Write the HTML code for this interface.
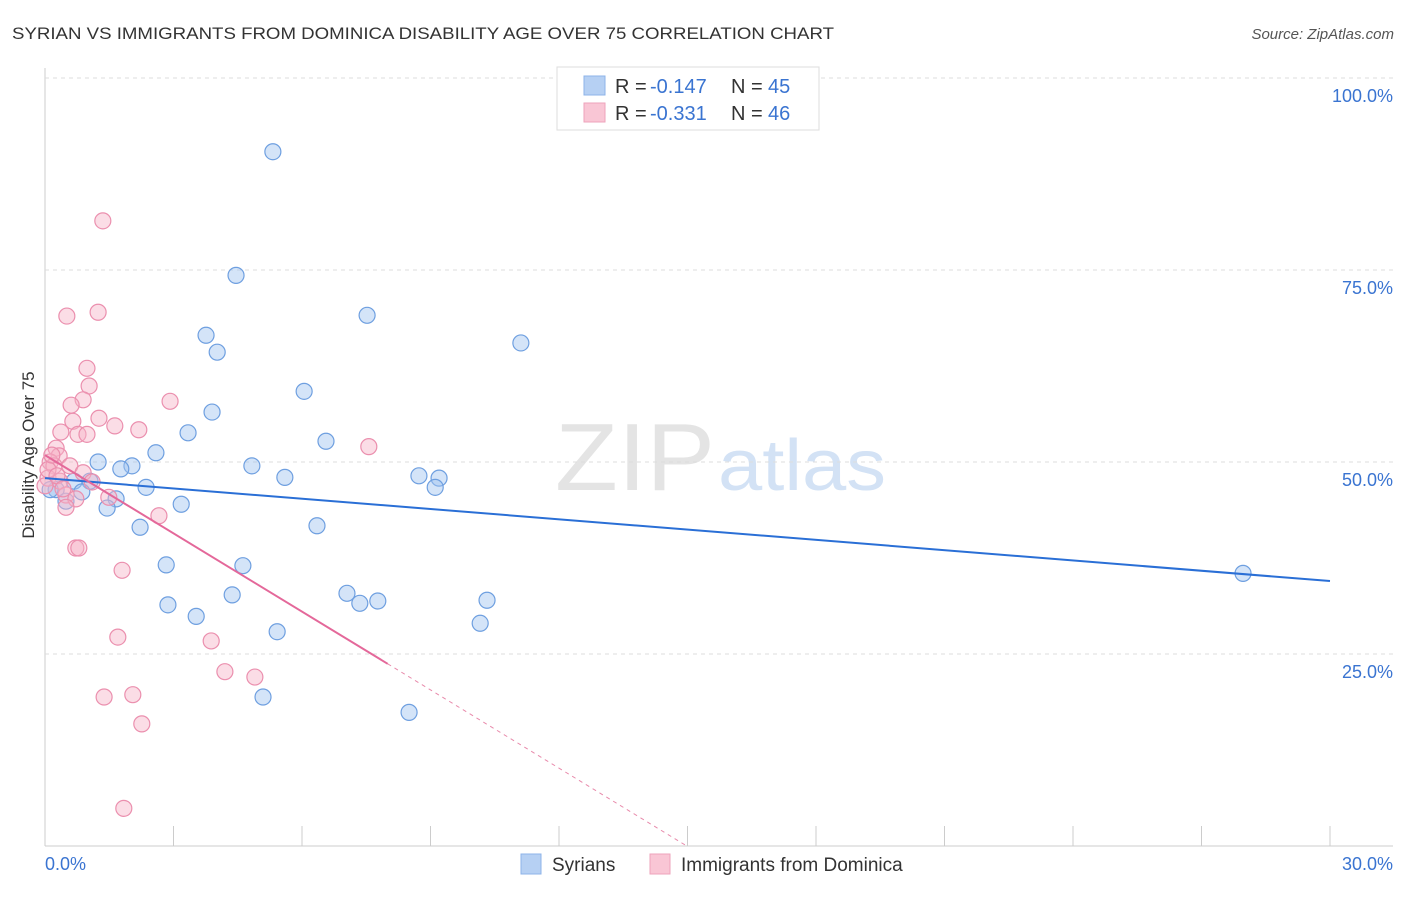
<!DOCTYPE html>
<html><head><meta charset="utf-8"><style>
body{margin:0;background:#fff;font-family:"Liberation Sans",sans-serif}
svg text{font-family:"Liberation Sans",sans-serif}
</style></head><body>
<svg id="c" width="1406" height="892" xmlns="http://www.w3.org/2000/svg">
<text x="12" y="39" font-size="17" fill="#333" textLength="822" lengthAdjust="spacingAndGlyphs">SYRIAN VS IMMIGRANTS FROM DOMINICA DISABILITY AGE OVER 75 CORRELATION CHART</text>
<text x="1394" y="39" font-size="15" fill="#555" text-anchor="end" font-style="italic">Source: ZipAtlas.com</text>
<text x="555" y="490" font-size="96" fill="#e4e4e4" textLength="160" lengthAdjust="spacingAndGlyphs" font-family="Liberation Serif">ZIP</text>
<text x="718" y="490" font-size="72" fill="#d3e2f5" textLength="168" lengthAdjust="spacingAndGlyphs">atlas</text>
<text transform="translate(34,455) rotate(-90)" font-size="17" fill="#333" text-anchor="middle">Disability Age Over 75</text>
<g id="grid"></g><g id="pts"></g><g id="lines"></g>
<g>
<rect x="557" y="67" width="262" height="63" fill="#fff" stroke="#ddd"/>
<rect x="584" y="76" width="21" height="19" fill="#b6d0f3" stroke="#8db3e8"/>
<rect x="584" y="103" width="21" height="19" fill="#f9c6d5" stroke="#eea3bb"/>
<text x="615" y="93" font-size="20" fill="#333">R =</text>
<text x="650" y="93" font-size="20" fill="#3a74d1">-0.147</text>
<text x="731" y="93" font-size="20" fill="#333">N =</text>
<text x="768" y="93" font-size="20" fill="#3a74d1">45</text>
<text x="615" y="120" font-size="20" fill="#333">R =</text>
<text x="650" y="120" font-size="20" fill="#3a74d1">-0.331</text>
<text x="731" y="120" font-size="20" fill="#333">N =</text>
<text x="768" y="120" font-size="20" fill="#3a74d1">46</text>
</g>
<g>
<rect x="521" y="854" width="20" height="20" fill="#b6d0f3" stroke="#8db3e8"/>
<text x="552" y="871" font-size="19" fill="#333">Syrians</text>
<rect x="650" y="854" width="20" height="20" fill="#f9c6d5" stroke="#eea3bb"/>
<text x="681" y="871" font-size="19" fill="#333">Immigrants from Dominica</text>
</g>
</svg>
<script>
const xTicks=[0,3,6,9,12,15,18,21,24,27,30];
const yTicks=[25,50,75,100];
const yTickLabels=["25.0%","50.0%","75.0%","100.0%"];
const blueX=[5.32,4.46,7.52,3.76,11.11,4.02,6.05,3.90,3.34,6.56,2.59,1.24,2.03,1.77,4.83,5.60,8.73,9.20,9.11,1.05,0.68,2.36,0.26,0.86,1.66,0.49,3.18,1.45,2.22,6.35,2.83,4.62,4.37,7.05,7.35,7.77,10.32,2.87,3.53,10.16,5.42,5.09,8.50,27.97,0.12];
const blueY=[90.4,74.3,69.1,66.5,65.5,64.3,59.2,56.5,53.8,52.7,51.2,50.0,49.5,49.1,49.5,48.0,48.2,47.9,46.7,47.5,47.5,46.7,46.4,46.1,45.2,44.9,44.5,44.0,41.5,41.7,36.6,36.5,32.7,32.9,31.6,31.9,32.0,31.4,29.9,29.0,27.9,19.4,17.4,35.5,46.4];
const pinkX=[1.35,1.24,0.51,0.98,1.03,0.89,0.61,2.92,1.26,0.65,1.63,2.19,0.37,0.77,0.98,0.26,0.33,7.56,0.12,0.21,0.58,0.89,0.07,0.35,1.10,0.49,0.72,1.49,0.49,2.66,0.72,0.79,1.80,1.70,3.88,4.20,4.90,1.38,2.05,2.26,1.84,0.07,0.28,0.42,0.00,0.16];
const pinkY=[81.4,69.5,69.0,62.2,59.9,58.1,57.4,57.9,55.7,55.3,54.7,54.2,53.9,53.6,53.6,51.8,50.8,52.0,50.0,49.5,49.5,48.6,47.9,47.5,47.4,45.7,45.2,45.4,44.1,43.0,38.8,38.8,35.9,27.2,26.7,22.7,22.0,19.4,19.7,15.9,4.9,49.0,48.2,46.5,46.9,50.9];
const blueTrend=[47.9,34.5];
const pinkTrend=[50.9,-3.397];
const pinkSolidEnd=8.0;
const NS="http://www.w3.org/2000/svg";
const X=v=>45+v*42.833, Y=v=>846-v*7.68;
function mk(tag,attrs,parent){const e=document.createElementNS(NS,tag);for(const k in attrs)e.setAttribute(k,attrs[k]);parent.appendChild(e);return e;}
const grid=document.getElementById('grid');
let ax=mk('line',{x1:45,y1:68,x2:45,y2:846,stroke:'#ccc'},grid);


let bx=mk('line',{x1:45,y1:846,x2:1393,y2:846,stroke:'#ccc'},grid);


yTicks.forEach((t,i)=>{
 let g=mk('line',{x1:45,y1:Y(t),x2:1393,y2:Y(t),stroke:'#ddd','stroke-dasharray':'4,4'},grid);
 
 
 let tx=mk('text',{x:1393,y:Y(t)+24,'font-size':18,fill:'#3a74d1','text-anchor':'end'},grid);
 tx.textContent=yTickLabels[i];
 
 
});
xTicks.forEach(t=>{
 let l=mk('line',{x1:X(t),y1:826,x2:X(t),y2:846,stroke:'#ccc'},grid);
 
 
});
let x0=mk('text',{x:45,y:870,'font-size':18,fill:'#3a74d1'},grid);x0.textContent='0.0%';


let x1=mk('text',{x:1393,y:870,'font-size':18,fill:'#3a74d1','text-anchor':'end'},grid);x1.textContent='30.0%';


const pts=document.getElementById('pts');
blueX.forEach((v,i)=>{
 let c=mk('circle',{cx:X(v),cy:Y(blueY[i]),r:8,fill:'rgba(160,195,240,0.45)',stroke:'#6e9fe0','stroke-width':1.2},pts);
 
 
});
pinkX.forEach((v,i)=>{
 let c=mk('circle',{cx:X(v),cy:Y(pinkY[i]),r:8,fill:'rgba(246,180,200,0.45)',stroke:'#eb8fae','stroke-width':1.2},pts);
 
 
});
const lines=document.getElementById('lines');
let bl=mk('line',{x1:X(0),y1:Y(blueTrend[0]),x2:X(30),y2:Y(blueTrend[1]),stroke:'#2a6fd6','stroke-width':2},lines);


const py=x=>pinkTrend[0]+pinkTrend[1]*x;
const zx=-pinkTrend[0]/pinkTrend[1];
let pl=mk('line',{x1:X(0),y1:Y(py(0)),x2:X(pinkSolidEnd),y2:Y(py(pinkSolidEnd)),stroke:'#e4689a','stroke-width':2},lines);


let pd=mk('line',{x1:X(pinkSolidEnd),y1:Y(py(pinkSolidEnd)),x2:X(zx),y2:Y(0),stroke:'#e88aab','stroke-width':1,'stroke-dasharray':'4,4'},lines);


</script>
</body></html>
